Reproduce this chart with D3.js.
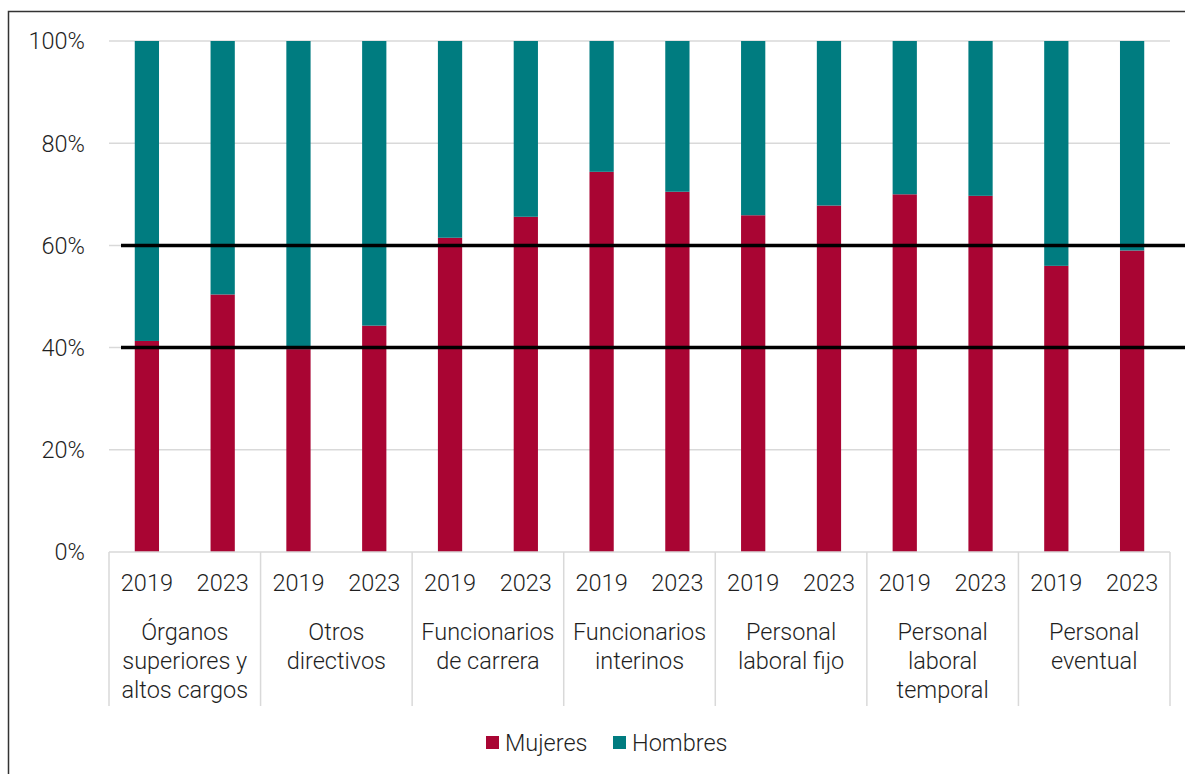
<!DOCTYPE html>
<html>
<head>
<meta charset="utf-8">
<script src="https://cdn.jsdelivr.net/npm/d3@7"></script>
<style>
  html, body { margin: 0; padding: 0; background: #fff; }
  svg text { font-family: Roboto, "Liberation Sans", sans-serif; font-weight: 300; fill: #1f1f1f; font-size: 23.5px; }
</style>
</head>
<body>
<svg id="chart" width="1185" height="774"></svg>
<script>
// data
const categories = [
  ['Órganos', 'superiores y', 'altos cargos'],
  ['Otros', 'directivos'],
  ['Funcionarios', 'de carrera'],
  ['Funcionarios', 'interinos'],
  ['Personal', 'laboral fijo'],
  ['Personal', 'laboral', 'temporal'],
  ['Personal', 'eventual']
];
const years = ['2019', '2023'];
const mujeres = [41.3, 50.4, 39.7, 44.3, 61.5, 65.6, 74.4, 70.5, 65.9, 67.8, 70.0, 69.7, 56.0, 59.0];
const hombres = [58.7, 49.6, 60.3, 55.7, 38.5, 34.4, 25.6, 29.5, 34.1, 32.2, 30.0, 30.3, 44.0, 41.0];
const yTicks = [0, 20, 40, 60, 80, 100];
const refLines = [40, 60];
const seriesNames = ['Mujeres', 'Hombres'];
const colors = ['#a90533', '#007c80'];

const svg = d3.select('#chart');
const plot = { left: 109, right: 1170, top: 41, bottom: 552 };

// one row per bar
const rows = [];
categories.forEach((c, i) => {
  years.forEach((yr, j) => {
    const k = i * years.length + j;
    rows.push({ cat: i, year: yr, Mujeres: mujeres[k], Hombres: hombres[k] });
  });
});

const x0 = d3.scaleBand().domain(d3.range(categories.length)).range([plot.left, plot.right]);
const x1 = d3.scaleBand().domain(years).range([0, x0.bandwidth()]).paddingInner(0.68).paddingOuter(0.34);
const y = d3.scaleLinear().domain([0, 100]).range([plot.bottom, plot.top]);

// outer frame (only top and left edges are in view)
svg.append('path')
  .attr('d', 'M8.5,774 V11.5 H1185')
  .attr('fill', 'none')
  .attr('stroke', '#333')
  .attr('stroke-width', 1.5);

// gridlines
svg.append('g')
  .selectAll('line')
  .data(yTicks.filter(d => d > 0))
  .join('line')
  .attr('x1', plot.left).attr('x2', plot.right)
  .attr('y1', d => y(d)).attr('y2', d => y(d))
  .attr('stroke', '#d9d9d9')
  .attr('stroke-width', 1.5);

// y labels
svg.append('g')
  .selectAll('text')
  .data(yTicks)
  .join('text')
  .attr('x', 85)
  .attr('y', d => y(d))
  .attr('dy', '0.36em')
  .attr('text-anchor', 'end')
  .text(d => d + '%');

// stacked bars
const stack = d3.stack().keys(seriesNames)(rows);
svg.append('g')
  .selectAll('g')
  .data(stack)
  .join('g')
  .attr('fill', (d, i) => colors[i])
  .selectAll('rect')
  .data(d => d)
  .join('rect')
  .attr('x', d => x0(d.data.cat) + x1(d.data.year))
  .attr('width', x1.bandwidth())
  .attr('y', d => y(d[1]))
  .attr('height', d => y(d[0]) - y(d[1]));

// category axis: baseline and separators
const ax = svg.append('g').attr('stroke', '#d9d9d9').attr('stroke-width', 1.5);
ax.append('line').attr('x1', plot.left).attr('x2', plot.right).attr('y1', plot.bottom).attr('y2', plot.bottom);
ax.selectAll('line.sep')
  .data(d3.range(categories.length + 1))
  .join('line')
  .attr('class', 'sep')
  .attr('x1', i => i < categories.length ? x0(i) : plot.right)
  .attr('x2', i => i < categories.length ? x0(i) : plot.right)
  .attr('y1', plot.bottom).attr('y2', 706);

// year labels
svg.append('g')
  .selectAll('text')
  .data(rows)
  .join('text')
  .attr('x', d => x0(d.cat) + x1(d.year) + x1.bandwidth() / 2)
  .attr('y', 583)
  .attr('dy', '0.36em')
  .attr('text-anchor', 'middle')
  .text(d => d.year);

// category labels
svg.append('g')
  .selectAll('text')
  .data(categories)
  .join('text')
  .attr('text-anchor', 'middle')
  .each(function (lines, i) {
    d3.select(this).selectAll('tspan')
      .data(lines)
      .join('tspan')
      .attr('x', x0(i) + x0.bandwidth() / 2)
      .attr('y', (d, j) => 632 + j * 29)
      .attr('dy', '0.36em')
      .text(d => d);
  });

// 40% and 60% reference lines
svg.append('g')
  .selectAll('line')
  .data(refLines)
  .join('line')
  .attr('x1', 121).attr('x2', 1185)
  .attr('y1', d => y(d)).attr('y2', d => y(d))
  .attr('stroke', '#000')
  .attr('stroke-width', 3.5);

// legend
const legendX = [486, 613];
const legend = svg.append('g')
  .selectAll('g')
  .data(seriesNames)
  .join('g')
  .attr('transform', (d, i) => `translate(${legendX[i]},736)`);
legend.append('rect').attr('width', 13).attr('height', 13).attr('fill', (d, i) => colors[i]);
legend.append('text')
  .attr('x', 19)
  .attr('y', 6.5)
  .attr('dy', '0.36em')
  .text(d => d);
</script>
</body>
</html>
